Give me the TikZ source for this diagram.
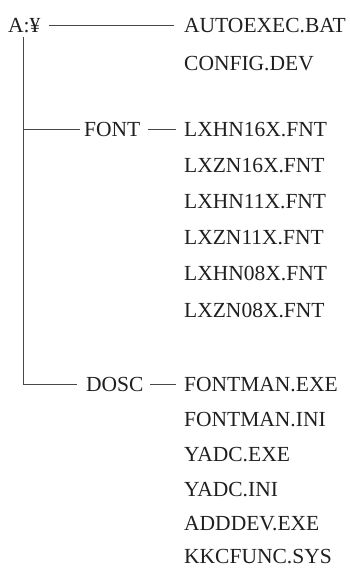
\documentclass[tikz,border=0pt]{standalone}
\usepackage{fontspec}
\setmainfont{Liberation Serif}
\begin{document}
\begin{tikzpicture}[x=1pt,y=-1pt,
  lbl/.style={anchor=west,inner sep=0pt,text height=14pt,text depth=0pt,font=\fontsize{21.5}{21.5}\selectfont,text=black!88},
  conn/.style={draw=black!72,line width=0.8pt}]
\useasboundingbox (0,0) rectangle (349,568);
\node[lbl] (root) at (8,25) {A:¥};
\node[lbl] (autoexec) at (184,25) {AUTOEXEC.BAT};
\node[lbl] (config) at (184,63) {CONFIG.DEV};
\node[lbl] (font) at (84,129) {FONT};
\node[lbl] (f1) at (184,129) {LXHN16X.FNT};
\node[lbl] (f2) at (184,165) {LXZN16X.FNT};
\node[lbl] (f3) at (184,201) {LXHN11X.FNT};
\node[lbl] (f4) at (184,237) {LXZN11X.FNT};
\node[lbl] (f5) at (184,273) {LXHN08X.FNT};
\node[lbl] (f6) at (184,310) {LXZN08X.FNT};
\node[lbl] (dosc) at (86,384) {DOSC};
\node[lbl] (d1) at (184,384) {FONTMAN.EXE};
\node[lbl] (d2) at (184,419) {FONTMAN.INI};
\node[lbl] (d3) at (184,454) {YADC.EXE};
\node[lbl] (d4) at (184,489) {YADC.INI};
\node[lbl] (d5) at (184,523) {ADDDEV.EXE};
\node[lbl] (d6) at (184,556) {KKCFUNC.SYS};
\coordinate (trunk) at (23,37);
\draw[conn] ([xshift=8pt]root.east) -- ([xshift=-10pt]autoexec.west);
\draw[conn] (trunk) |- ([xshift=-9pt]dosc.west);
\draw[conn] (trunk |- font.west) -- ([xshift=-4pt]font.west);
\draw[conn] ([xshift=7pt]font.east) -- ([xshift=-8pt]f1.west);
\draw[conn] ([xshift=6pt]dosc.east) -- ([xshift=-8pt]d1.west);
\end{tikzpicture}
\end{document}
